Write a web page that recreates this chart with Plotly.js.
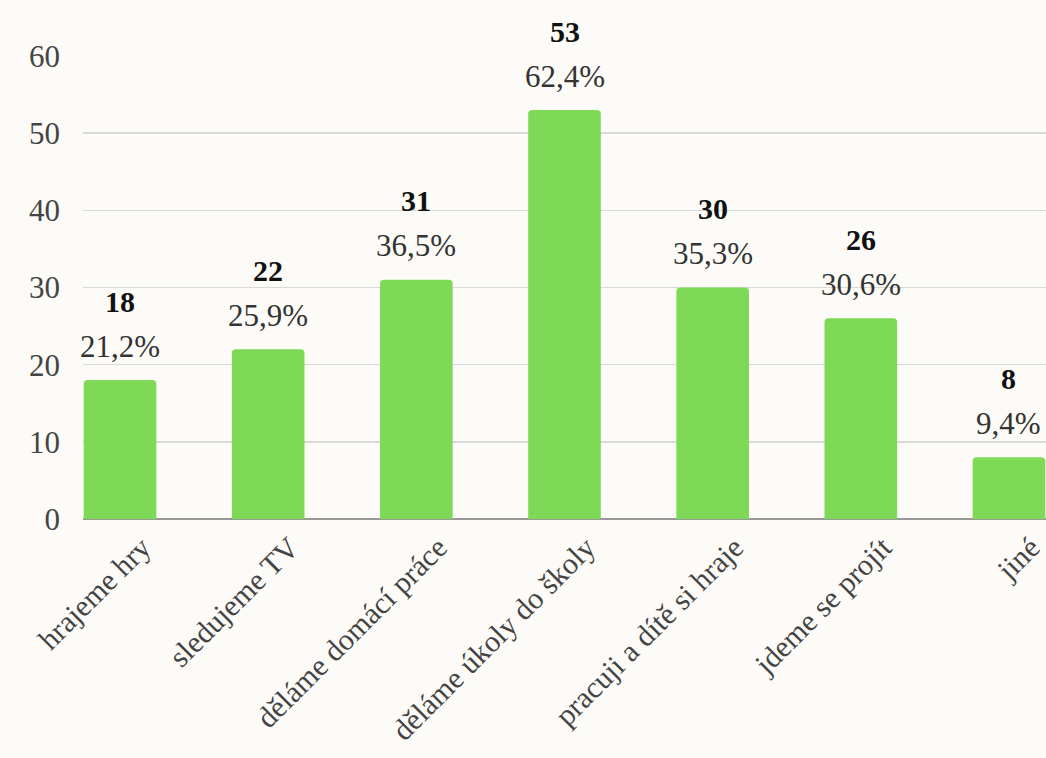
<!DOCTYPE html>
<html><head><meta charset="utf-8">
<script src="https://cdn.plot.ly/plotly-3.0.1.min.js"></script>
<style>html,body{margin:0;padding:0;background:#fdfbf7;}</style>
</head><body>
<div id="chart" style="width:1046px;height:758px;"></div>
<script>
const categories = ["hrajeme hry","sledujeme TV","děláme domácí práce","děláme úkoly do školy","pracuji a dítě si hraje","jdeme se projít","jiné"];
const counts = [18,22,31,53,30,26,8];
const percents = ["21,2%","25,9%","36,5%","62,4%","35,3%","30,6%","9,4%"];
const yTicks = [0,10,20,30,40,50,60];

const FONT = 'Times New Roman, Liberation Serif, Times, serif';
const xs = categories.map((c,i)=>i);
const annotations = [];
counts.forEach((v,i)=>{
  annotations.push({x:i,y:v,xref:'x',yref:'y',text:'<b>'+v+'</b>',showarrow:false,yanchor:'middle',yshift:79,
    font:{family:FONT,size:30,color:'#111'}});
  annotations.push({x:i,y:v,xref:'x',yref:'y',text:percents[i],showarrow:false,yanchor:'middle',yshift:34,
    font:{family:FONT,size:31,color:'#333'}});
});

Plotly.newPlot('chart',[{
  type:'bar',x:xs,y:counts,width:0.49,
  marker:{color:'#7ed957',cornerradius:4},
  hoverinfo:'none',cliponaxis:false
}],{
  width:1046,height:758,
  font:{family:FONT},
  paper_bgcolor:'#fdfbf7',plot_bgcolor:'#fdfbf7',
  margin:{l:83,r:0,t:56,b:239},
  showlegend:false,
  xaxis:{range:[-0.25,6.25],tickmode:'array',tickvals:xs,ticktext:categories,tickangle:-45,
    showgrid:false,zeroline:false,showline:false,ticks:'',ticklabelshift:22,ticklabelstandoff:4,
    tickfont:{family:FONT,size:30,color:'#444'}},
  yaxis:{range:[0,60],tickmode:'array',tickvals:yTicks,ticktext:yTicks.map(String),
    showgrid:true,gridcolor:'#d9d9d9',gridwidth:1.5,zeroline:true,zerolinecolor:'#999',zerolinewidth:1.5,
    showline:false,ticks:'',ticklabelstandoff:22,
    tickfont:{family:FONT,size:31,color:'#444'}},
  annotations:annotations
},{staticPlot:true});
</script>
</body></html>
